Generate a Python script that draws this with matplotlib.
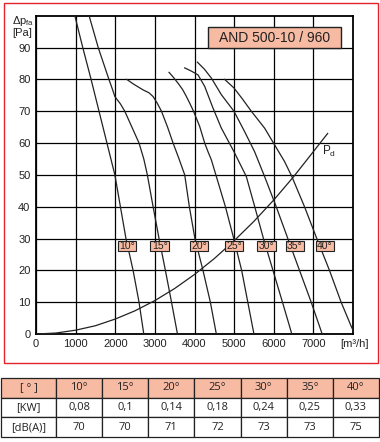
#fan curve chart for AND 500-10 / 960 with blade angle table

import matplotlib
matplotlib.use("Agg")
import matplotlib.pyplot as plt
from matplotlib.patches import Rectangle

plt.rcParams['font.family'] = ['Liberation Sans', 'DejaVu Sans']

# blade angles
angles = ["10°", "15°", "20°", "25°", "30°", "35°", "40°"]

# airflow [m3/h] / static pressure [Pa] per blade angle
q10 = [980, 1180, 1390, 1590, 1790, 1990, 2130, 2270, 2450, 2600, 2720]
p10 = [100, 90, 80, 70, 60, 50, 40, 30, 20, 10, 0]

q15 = [1340, 1570, 1840, 1940, 1990, 2050, 2130, 2240, 2420, 2600, 2720, 2810, 2955, 3105, 3265, 3420, 3570]
p15 = [100, 90, 80, 76.5, 74.6, 73.6, 72.3, 70, 65, 60, 55, 50, 40, 30, 20, 10, 0]

q20 = [2290, 2450, 2700, 2850, 2955, 3060, 3166, 3320, 3459, 3610, 3753, 3870, 4010, 4214, 4400, 4551]
p20 = [80, 78.6, 76.7, 75.8, 74.6, 72.5, 70, 65, 60, 55, 50, 40, 30, 20, 10, 0]

q25 = [3358, 3470, 3584, 3700, 3796, 3880, 3975, 4131, 4257, 4340, 4426, 4551, 4780, 4990, 5190, 5345, 5500]
p25 = [82.2, 80.6, 78.8, 76.8, 74.6, 72.5, 70, 65.2, 60, 57.3, 54.7, 49.5, 40, 30, 20, 10, 0]

q30 = [3753, 3920, 4089, 4257, 4466, 4677, 4995, 5307, 5520, 5740, 5980, 6220, 6456]
p30 = [83.6, 82.6, 81.4, 77.8, 71, 64.7, 57.3, 49.5, 40, 30, 20, 10, 0]

q35 = [4073, 4250, 4426, 4677, 4995, 5264, 5516, 5768, 6062, 6355, 6650, 6945, 7222]
p35 = [85.4, 83.2, 80.4, 75.2, 70, 63.6, 57.3, 49.5, 40, 30, 20, 10, 0]

q40 = [4761, 4995, 5200, 5433, 5768, 6003, 6272, 6456, 6776, 7086, 7406, 7700, 7952, 8000]
p40 = [80, 77.3, 74, 70, 64.7, 59.8, 54.2, 49.5, 40, 30, 20, 10, 2.5, 1.2]

# dynamic pressure curve
pd_q = [0, 500, 1000, 1500, 2000, 2500, 3000, 3500, 4000, 4500, 5000, 5500, 6000, 6500, 7000, 7360]
pd_p = [0, 0.3, 1.2, 2.6, 4.7, 7.3, 10.5, 14.3, 18.7, 23.7, 29.3, 35.4, 42.1, 49.4, 57.3, 63]

# table values
power_kw = ["0,08", "0,1", "0,14", "0,18", "0,24", "0,25", "0,33"]
noise_db = ["70", "70", "71", "72", "73", "73", "75"]

curves = [(q10, p10), (q15, p15), (q20, p20), (q25, p25), (q30, p30), (q35, p35), (q40, p40)]
label_x = [2290, 3120, 4110, 5000, 5815, 6530, 7290]

salmon = '#F7BAA2'

fig = plt.figure(figsize=(3.8, 4.42), dpi=100)
W, H = 380, 442

# red outer frame
fig.patches.append(Rectangle((4 / W, 1 - 363 / H), 374 / W, 360 / H, transform=fig.transFigure,
                             fill=False, ec='#E2232B', lw=1.0))

ax = fig.add_axes([36 / W, 1 - 334 / H, 317 / W, 318.3 / H])
ax.set_xlim(0, 8000)
ax.set_ylim(0, 100)
ax.set_xticks(range(0, 8000, 1000))
ax.set_yticks(range(0, 100, 10))
ax.grid(True, color='black', lw=0.9)
ax.tick_params(length=0, labelsize=8, colors='#222222')
ax.tick_params(axis='y', pad=4)
ax.tick_params(axis='x', pad=3.5)
for s in ax.spines.values():
    s.set_linewidth(1.3)

for q, p in curves:
    ax.plot(q, p, color='#222222', lw=0.9, zorder=3)
ax.plot(pd_q, pd_p, color='#222222', lw=0.9, zorder=3)
ax.text(7230, 57.2, r'$\mathregular{P_d}$', fontsize=8.5, va='center', ha='left', color='#222222')

# angle labels
for a, x in zip(angles, label_x):
    ax.add_patch(Rectangle((x - 233, 26.0), 466, 3.3, fc=salmon, ec='#222222', lw=0.8, zorder=4))
    ax.text(x, 27.65, a, fontsize=7.5, ha='center', va='center', zorder=5, color='#222222')

# model box
ax.add_patch(Rectangle((4340, 89.8), 3360, 6.6, fc=salmon, ec='#222222', lw=1.0, zorder=4))
ax.text(6020, 93.1, "AND 500-10 / 960", fontsize=10, ha='center', va='center', zorder=5,
        color='#222222')

# axis titles
fig.text(12 / W, 1 - 21 / H, r'$\mathregular{Δp_{fa}}$', fontsize=8, ha='left', va='center', color='#222222')
fig.text(12 / W, 1 - 33 / H, "[Pa]", fontsize=8, ha='left', va='center', color='#222222')
fig.text(340 / W, 1 - 344 / H, "[m³/h]", fontsize=8, ha='left', va='center', color='#222222')

# table
tax = fig.add_axes([1 / W, 5 / H, 378 / W, 59 / H])
tax.axis('off')
rows = [["[ ° ]"] + angles, ["[KW]"] + power_kw, ["[dB(A)]"] + noise_db]
widths = [55] + [46.14] * 7
tbl = tax.table(cellText=rows, colWidths=[w / sum(widths) for w in widths],
                cellLoc='center', bbox=[0, 0, 1, 1])
tbl.auto_set_font_size(False)
tbl.set_fontsize(8)
for (r, c), cell in tbl.get_celld().items():
    cell.set_linewidth(0.9)
    cell.set_edgecolor('#222222')
    cell.get_text().set_fontfamily(['Open Sans', 'DejaVu Sans'])
    cell.get_text().set_color('#222222')
    if r == 0:
        cell.set_facecolor(salmon)

fig.savefig("out.png", dpi=100)
